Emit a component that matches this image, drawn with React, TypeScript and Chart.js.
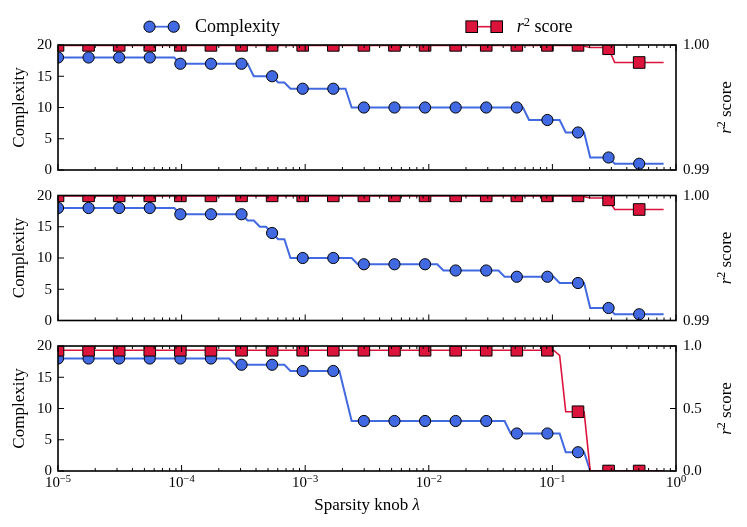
import React, { useEffect, useRef } from 'react';
import { Chart, registerables } from 'chart.js';

Chart.register(...registerables);

// ---------------- data ----------------
// λ sweep: logarithmic grid of the sparsity knob (exponent start / end / count)
const LAMBDA_EXP_START = -5;
const LAMBDA_EXP_END = -0.1;
const LAMBDA_COUNT = 100;
const MARK_EVERY = 5;

const X_DECADES = [-5, -4, -3, -2, -1, 0];
const COMPLEXITY_TICKS = [0, 5, 10, 15, 20];
const R2_TICKS_FINE = [0.99, 1.0];
const R2_TICKS_COARSE = [0.0, 0.5, 1.0];

// run-length lists: [value, number of consecutive λ samples]
const COMPLEXITY_TOP = [[18, 20], [17, 12], [15, 4], [14, 2], [13, 10], [10, 29], [8, 6], [6, 4], [2, 4], [1, 9]];
const COMPLEXITY_MID = [[18, 20], [17, 11], [16, 2], [15, 2], [14, 1], [13, 2], [10, 11], [9, 14], [8, 10], [7, 9], [6, 5], [2, 4], [1, 9]];
const COMPLEXITY_BOT = [[18, 29], [17, 9], [16, 9], [12, 1], [8, 26], [6, 9], [3, 4], [0, 13]];
const R2_TOP = [[0.99997, 86], [0.9999, 1], [0.9998, 3], [0.9997, 1], [0.9986, 9]];
const R2_MID = [[0.99997, 86], [0.9999, 1], [0.9998, 3], [0.99965, 1], [0.99888, 9]];
const R2_BOT = [[0.966, 82], [0.925, 1], [0.474, 4], [0, 13]];

// ---------------- layout / style ----------------
const W = 747;
const H = 527;
const PLOT_LEFT = 58;
const PLOT_RIGHT = 676;
const PANEL_TOPS = [45, 195.5, 346];
const PANEL_H = 125;
const BLUE = '#4169E1';
const RED = '#DC143C';
const FONT = '"Liberation Serif", "DejaVu Serif", serif';
const TICK_SIZE = 15;
const LABEL_SIZE = 17;
const LEGEND_SIZE = 18;
const MAJOR_LEN = 6;
const MINOR_LEN = 3;
const CIRCLE_R = 5.6;
const SQUARE_HALF = 5.8;

function expandRuns(runs: number[][]): number[] {
  const out: number[] = [];
  runs.forEach(([v, n]) => {
    for (let i = 0; i < n; i++) out.push(v);
  });
  return out;
}

const LAMBDA: number[] = Array.from({ length: LAMBDA_COUNT }, (_, i) =>
  Math.pow(10, LAMBDA_EXP_START + ((LAMBDA_EXP_END - LAMBDA_EXP_START) * i) / (LAMBDA_COUNT - 1))
);

const PANELS = [
  { complexity: COMPLEXITY_TOP, r2: R2_TOP, r2Ticks: R2_TICKS_FINE, r2Digits: 2 },
  { complexity: COMPLEXITY_MID, r2: R2_MID, r2Ticks: R2_TICKS_FINE, r2Digits: 2 },
  { complexity: COMPLEXITY_BOT, r2: R2_BOT, r2Ticks: R2_TICKS_COARSE, r2Digits: 1 },
];

type Part = { t: string; size: number; italic?: boolean; rise?: number };

function fontOf(p: Part) {
  return `${p.italic ? 'italic ' : ''}${p.size}px ${FONT}`;
}

function drawRich(ctx: CanvasRenderingContext2D, parts: Part[], x: number, y: number, align: 'left' | 'center' | 'right') {
  let w = 0;
  parts.forEach((p) => {
    ctx.font = fontOf(p);
    w += ctx.measureText(p.t).width;
  });
  let cx = align === 'left' ? x : align === 'center' ? x - w / 2 : x - w;
  ctx.textAlign = 'left';
  ctx.textBaseline = 'alphabetic';
  parts.forEach((p) => {
    ctx.font = fontOf(p);
    ctx.fillText(p.t, cx, y - (p.rise || 0));
    cx += ctx.measureText(p.t).width;
  });
}

function drawCircle(ctx: CanvasRenderingContext2D, x: number, y: number) {
  ctx.beginPath();
  ctx.arc(x, y, CIRCLE_R, 0, Math.PI * 2);
  ctx.fillStyle = BLUE;
  ctx.fill();
  ctx.lineWidth = 1;
  ctx.strokeStyle = '#000';
  ctx.stroke();
}

function drawSquare(ctx: CanvasRenderingContext2D, x: number, y: number) {
  const s = SQUARE_HALF;
  ctx.fillStyle = RED;
  ctx.fillRect(x - s, y - s, 2 * s, 2 * s);
  ctx.lineWidth = 1;
  ctx.strokeStyle = '#000';
  ctx.strokeRect(x - s, y - s, 2 * s, 2 * s);
}

const clipPlugin = {
  id: 'plotClip',
  beforeDatasetsDraw(chart: any) {
    const { ctx, chartArea: a } = chart;
    ctx.save();
    ctx.beginPath();
    ctx.rect(a.left, a.top, a.right - a.left, a.bottom - a.top);
    ctx.clip();
  },
  afterDatasetsDraw(chart: any) {
    chart.ctx.restore();
  },
};

function makeDecor(index: number) {
  const panel = PANELS[index];
  return {
    id: 'decor' + index,
    afterDatasetsDraw(chart: any) {
      const { ctx, chartArea: a, scales } = chart;
      const xs = scales.x;
      const yL = scales.yL;
      const yR = scales.yR;
      ctx.save();
      ctx.fillStyle = '#000';
      ctx.strokeStyle = '#000';

      // x ticks, inward on top and bottom spines
      ctx.lineWidth = 1;
      const xTick = (v: number, len: number) => {
        const px = xs.getPixelForValue(v);
        ctx.beginPath();
        ctx.moveTo(px, a.bottom);
        ctx.lineTo(px, a.bottom - len);
        ctx.moveTo(px, a.top);
        ctx.lineTo(px, a.top + len);
        ctx.stroke();
      };
      X_DECADES.forEach((e) => {
        xTick(Math.pow(10, e), MAJOR_LEN);
        if (e < 0) {
          for (let k = 2; k <= 9; k++) xTick(k * Math.pow(10, e), MINOR_LEN);
        }
      });

      // left axis ticks + labels
      ctx.font = `${TICK_SIZE}px ${FONT}`;
      COMPLEXITY_TICKS.forEach((v) => {
        const py = yL.getPixelForValue(v);
        ctx.beginPath();
        ctx.moveTo(a.left, py);
        ctx.lineTo(a.left + MAJOR_LEN, py);
        ctx.stroke();
        ctx.textAlign = 'right';
        ctx.textBaseline = 'middle';
        ctx.fillText(String(v), a.left - 6, py + 0.5);
      });

      // right axis ticks + labels
      panel.r2Ticks.forEach((v) => {
        const py = yR.getPixelForValue(v);
        ctx.beginPath();
        ctx.moveTo(a.right, py);
        ctx.lineTo(a.right - MAJOR_LEN, py);
        ctx.stroke();
        ctx.textAlign = 'left';
        ctx.textBaseline = 'middle';
        ctx.fillText(v.toFixed(panel.r2Digits), a.right + 7, py + 0.5);
      });

      // frame
      ctx.lineWidth = 1.6;
      ctx.strokeRect(a.left, a.top, a.right - a.left, a.bottom - a.top);

      const midY = (a.top + a.bottom) / 2;
      // left title
      ctx.save();
      ctx.translate(23.5, midY);
      ctx.rotate(-Math.PI / 2);
      drawRich(ctx, [{ t: 'Complexity', size: LABEL_SIZE }], 0, 0, 'center');
      ctx.restore();
      // right title
      ctx.save();
      ctx.translate(731, midY);
      ctx.rotate(-Math.PI / 2);
      drawRich(
        ctx,
        [
          { t: 'r', size: LABEL_SIZE, italic: true },
          { t: '2', size: 12, rise: 6 },
          { t: ' score', size: LABEL_SIZE },
        ],
        0,
        0,
        'center'
      );
      ctx.restore();

      if (index === PANELS.length - 1) {
        X_DECADES.forEach((e) => {
          const px = xs.getPixelForValue(Math.pow(10, e));
          drawRich(
            ctx,
            [
              { t: '10', size: TICK_SIZE },
              { t: e === 0 ? '0' : '\u2212' + String(-e), size: 10.5, rise: 5.5 },
            ],
            px,
            a.bottom + 16,
            'center'
          );
        });
        drawRich(
          ctx,
          [
            { t: 'Sparsity knob ', size: LABEL_SIZE },
            { t: 'λ', size: LABEL_SIZE, italic: true },
          ],
          (a.left + a.right) / 2,
          510,
          'center'
        );
      }

      if (index === 0) {
        const ly = 26.7;
        ctx.lineWidth = 1.8;
        ctx.strokeStyle = BLUE;
        ctx.beginPath();
        ctx.moveTo(149.5, ly);
        ctx.lineTo(173.7, ly);
        ctx.stroke();
        drawCircle(ctx, 149.5, ly);
        drawCircle(ctx, 173.7, ly);
        ctx.fillStyle = '#000';
        drawRich(ctx, [{ t: 'Complexity', size: LEGEND_SIZE }], 195, 32, 'left');

        ctx.lineWidth = 1.6;
        ctx.strokeStyle = RED;
        ctx.beginPath();
        ctx.moveTo(471.7, ly);
        ctx.lineTo(496.7, ly);
        ctx.stroke();
        drawSquare(ctx, 471.7, ly);
        drawSquare(ctx, 496.7, ly);
        ctx.fillStyle = '#000';
        drawRich(
          ctx,
          [
            { t: 'r', size: LEGEND_SIZE, italic: true },
            { t: '2', size: 12.5, rise: 6.5 },
            { t: ' score', size: LEGEND_SIZE },
          ],
          516.7,
          32,
          'left'
        );
      }
      ctx.restore();
    },
  };
}

function makeConfig(index: number): any {
  const panel = PANELS[index];
  const comp = expandRuns(panel.complexity);
  const r2 = expandRuns(panel.r2);
  const r2Min = panel.r2Ticks[0];
  const r2Max = panel.r2Ticks[panel.r2Ticks.length - 1];
  const top = PANEL_TOPS[index];
  const markerRadius = (r: number) => (ctx: any) => (ctx.dataIndex % MARK_EVERY === 0 ? r : 0);
  return {
    type: 'line',
    data: {
      datasets: [
        {
          label: 'r² score',
          data: r2.map((v, i) => ({ x: LAMBDA[i], y: v })),
          yAxisID: 'yR',
          borderColor: RED,
          backgroundColor: RED,
          borderWidth: 1.6,
          pointStyle: 'rect',
          pointRadius: markerRadius(SQUARE_HALF * Math.SQRT2),
          pointBackgroundColor: RED,
          pointBorderColor: '#000',
          pointBorderWidth: 1,
          tension: 0,
          fill: false,
          clip: false,
          order: 0,
        },
        {
          label: 'Complexity',
          data: comp.map((v, i) => ({ x: LAMBDA[i], y: v })),
          yAxisID: 'yL',
          borderColor: BLUE,
          backgroundColor: BLUE,
          borderWidth: 2,
          pointStyle: 'circle',
          pointRadius: markerRadius(CIRCLE_R),
          pointBackgroundColor: BLUE,
          pointBorderColor: '#000',
          pointBorderWidth: 1,
          tension: 0,
          fill: false,
          clip: false,
          order: 1,
        },
      ],
    },
    options: {
      responsive: false,
      animation: false,
      events: [],
      layout: {
        padding: { left: PLOT_LEFT, right: W - PLOT_RIGHT, top, bottom: H - (top + PANEL_H) },
      },
      plugins: { legend: { display: false }, tooltip: { enabled: false } },
      scales: {
        x: { type: 'logarithmic', min: 1e-5, max: 1, display: false },
        yL: { type: 'linear', position: 'left', min: 0, max: 20, display: false },
        yR: { type: 'linear', position: 'right', min: r2Min, max: r2Max, display: false },
      },
    },
    plugins: [clipPlugin, makeDecor(index)],
  };
}

function Panel({ index }: { index: number }) {
  const ref = useRef<HTMLCanvasElement>(null);
  useEffect(() => {
    if (!ref.current) return;
    const chart = new Chart(ref.current, makeConfig(index));
    return () => chart.destroy();
  }, [index]);
  return (
    <canvas
      ref={ref}
      width={W}
      height={H}
      style={{ position: 'absolute', left: 0, top: 0, width: W, height: H }}
    />
  );
}

export default function App() {
  return (
    <div style={{ position: 'absolute', left: 0, top: 0, width: W, height: H, background: '#fff', overflow: 'hidden' }}>
      {PANELS.map((_, i) => (
        <Panel key={i} index={i} />
      ))}
    </div>
  );
}
